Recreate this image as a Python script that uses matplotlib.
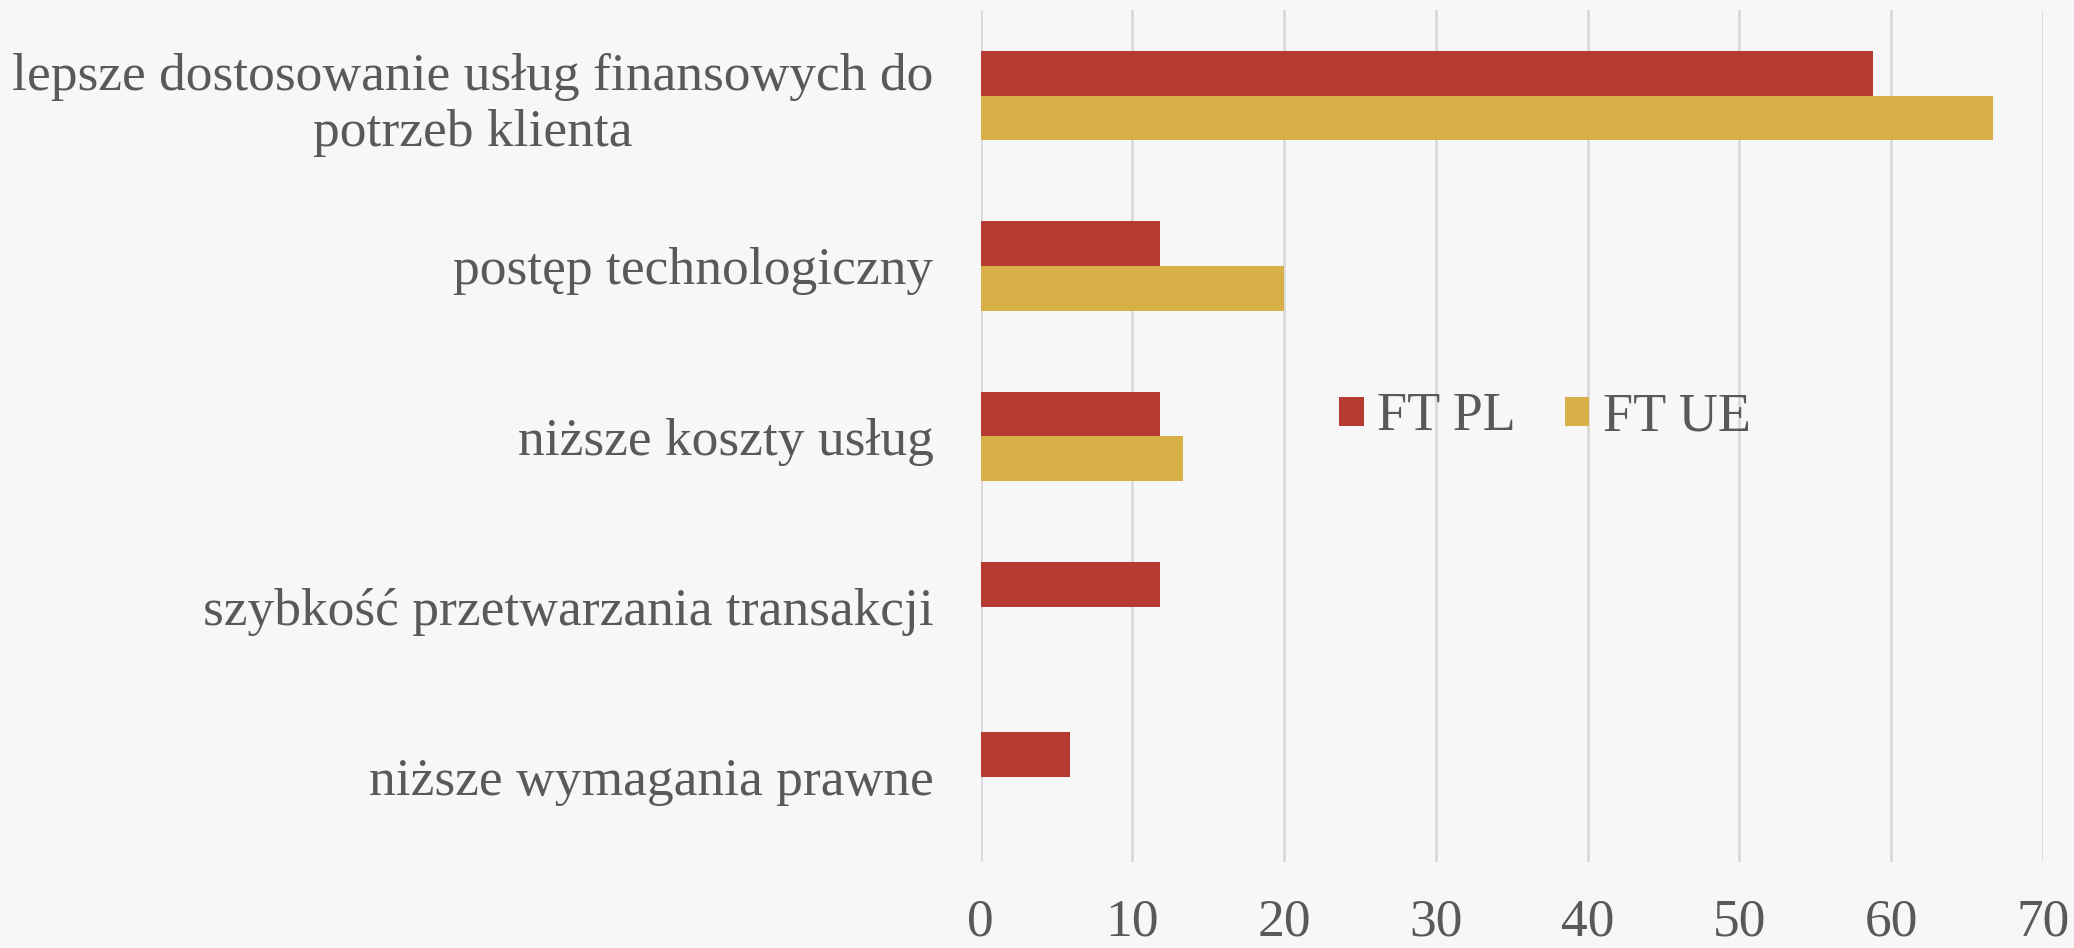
import numpy as np
import matplotlib
matplotlib.use("Agg")
import matplotlib.pyplot as plt

# data (percent of respondents)
categories = ["lepsze dostosowanie usług finansowych do\npotrzeb klienta",
              "postęp technologiczny",
              "niższe koszty usług",
              "szybkość przetwarzania transakcji",
              "niższe wymagania prawne"]
ft_pl = [58.8, 11.8, 11.8, 11.8, 5.9]
ft_ue = [66.7, 20.0, 13.3, 0, 0]
series_names = ["FT PL", "FT UE"]
xticks = [0, 10, 20, 30, 40, 50, 60, 70]

red = "#B43A32"
gold = "#D8B048"
txt = "#595959"
bg = "#F7F7F7"

plt.rcParams['font.family'] = ['Liberation Serif', 'DejaVu Serif']

fig = plt.figure(figsize=(20.74, 9.48), dpi=100, facecolor=bg)
ax = fig.add_axes([0.4729, 0.0907, 0.5120, 0.8983], facecolor=bg)

y = np.arange(len(categories))
h = 0.262
ax.barh(y - h/2, ft_pl, height=h, color=red, label=series_names[0], zorder=3)
ax.barh(y + h/2, ft_ue, height=h, color=gold, label=series_names[1], zorder=3)

ax.set_ylim(len(categories) - 0.5, -0.5)
ax.set_xlim(0, 70)
ax.set_xticks(xticks)
ax.set_yticks(y)
ax.set_yticklabels(categories, multialignment="center")
ax.tick_params(axis="y", length=0, pad=34, labelsize=38.5, labelcolor=txt)
ax.tick_params(axis="x", length=0, pad=26, labelsize=38.5, labelcolor=txt)
ax.grid(axis="x", color="#D9D9D9", linewidth=2, zorder=0)
for s in ax.spines.values():
    s.set_visible(False)

leg = fig.legend(loc="center", bbox_to_anchor=(0.745, 0.560), ncol=2, frameon=False,
                 fontsize=39, handlelength=0.45, handleheight=0.45,
                 handletextpad=0.25, columnspacing=0.9)
for t in leg.get_texts():
    t.set_color(txt)

fig.savefig("out.png", dpi=100, facecolor=bg)
